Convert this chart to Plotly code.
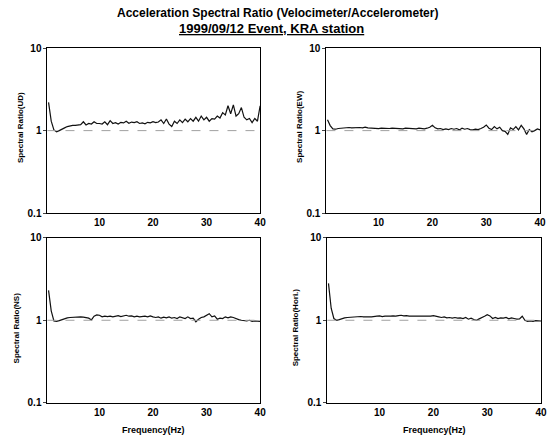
import plotly.graph_objects as go

freq = [0.5 * i for i in range(1, 81)]

ratio_ud = [2.2, 1.3, 1.02, 0.97, 1.0, 1.05, 1.08, 1.12, 1.15, 1.16,
            1.16, 1.17, 1.18, 1.28, 1.17, 1.22, 1.2, 1.28, 1.22, 1.22,
            1.2, 1.28, 1.18, 1.32, 1.22, 1.25, 1.2, 1.26, 1.24, 1.3,
            1.23, 1.27, 1.25, 1.28, 1.22, 1.24, 1.21, 1.26, 1.24, 1.28,
            1.25, 1.27, 1.35, 1.22, 1.38, 1.2, 1.12, 1.3, 1.22, 1.35,
            1.25, 1.38, 1.28, 1.4, 1.3, 1.45, 1.3, 1.5, 1.35, 1.45,
            1.3, 1.4, 1.38, 1.5, 1.42, 1.65, 1.55, 2.0, 1.6, 2.05,
            1.5, 1.6, 1.9, 1.45, 1.35, 1.4, 1.25, 1.4, 1.3, 2.0]

ratio_ew = [1.35, 1.15, 1.05, 1.04, 1.06, 1.07, 1.08, 1.08, 1.09, 1.08,
            1.09, 1.1, 1.09, 1.08, 1.1, 1.08, 1.07, 1.06, 1.07, 1.06,
            1.07, 1.06, 1.07, 1.06, 1.07, 1.06, 1.07, 1.06, 1.05, 1.07,
            1.06, 1.07, 1.06, 1.05, 1.07, 1.06, 1.05, 1.07, 1.1, 1.16,
            1.08, 1.05, 1.06, 1.03, 1.05, 1.03, 1.06, 1.04, 1.06, 1.02,
            1.07, 1.04, 1.06, 1.03, 1.02, 1.04, 1.03, 1.06, 1.1, 1.17,
            1.07, 1.03, 1.12, 1.05, 1.1, 1.0, 0.98, 0.9, 1.08, 1.03,
            1.12, 1.02, 1.16, 1.05, 0.9, 1.03, 0.97, 1.0, 1.05, 1.02]

ratio_ns = [2.3, 1.3, 0.98, 0.97, 0.99, 1.02, 1.05, 1.07, 1.08, 1.09,
            1.1, 1.1, 1.1, 1.09, 1.08, 1.06, 1.01, 1.12, 1.16, 1.15,
            1.1, 1.12, 1.11, 1.12, 1.1, 1.13, 1.14, 1.11, 1.13, 1.15,
            1.12, 1.13, 1.1, 1.12, 1.1, 1.11, 1.12, 1.1, 1.13, 1.1,
            1.08, 1.1, 1.06, 1.09, 1.07, 1.1, 1.06, 1.08, 1.05, 1.1,
            1.07, 1.05, 1.1, 1.05, 1.06, 0.96, 1.03, 1.08, 1.1, 1.14,
            1.2, 1.1, 1.13, 1.03, 1.06, 1.05, 1.1, 1.07, 1.1, 1.08,
            1.04, 1.02, 1.0, 0.99, 0.98, 1.0, 0.97, 0.98, 0.97, 0.97]

ratio_hor = [2.8, 1.4, 1.05, 1.0, 1.02, 1.05, 1.07, 1.08, 1.09, 1.1,
             1.1, 1.11, 1.11, 1.1, 1.11, 1.1, 1.1, 1.1, 1.12, 1.13,
             1.11, 1.12, 1.11, 1.12, 1.13, 1.12, 1.14, 1.15, 1.13, 1.14,
             1.12, 1.12, 1.11, 1.12, 1.1, 1.11, 1.12, 1.11, 1.12, 1.14,
             1.11, 1.1, 1.08, 1.1, 1.07, 1.08, 1.06, 1.08, 1.06, 1.07,
             1.05, 1.08, 1.03, 1.06, 1.02, 1.0, 1.04, 1.07, 1.12, 1.17,
             1.13, 1.05, 1.08, 1.05, 1.07, 1.06, 1.08, 1.04, 1.07, 1.05,
             1.03, 1.04, 1.12, 1.0, 0.97, 0.98, 0.97, 0.99, 0.98, 0.98]

panel_titles = ["Spectral Ratio(UD)", "Spectral Ratio(EW)",
                "Spectral Ratio(NS)", "Spectral Ratio(Hori.)"]
series = [ratio_ud, ratio_ew, ratio_ns, ratio_hor]
x_ticks = [10, 20, 30, 40]
y_ticks = [0.1, 1, 10]
y_tick_text = ["0.1", "1", "10"]
title1 = "Acceleration Spectral Ratio (Velocimeter/Accelerometer)"
title2 = "1999/09/12 Event, KRA station"
xlabel = "Frequency(Hz)"

W, H = 552, 446
# panel pixel boxes: (left, right, top, bottom)
boxes = [(48, 263, 44, 213), (330, 546, 44, 213),
         (48, 263, 238, 407), (331, 547, 238, 407)]
ytitle_pos = [(20, 125), (302, 125), (17, 330), (299, 330)]

FONT = "Liberation Sans"
fig = go.Figure()
for i, (vals, box) in enumerate(zip(series, boxes)):
    l, r, t, b = box
    xa = "xaxis" if i == 0 else f"xaxis{i+1}"
    ya = "yaxis" if i == 0 else f"yaxis{i+1}"
    xr = "x" if i == 0 else f"x{i+1}"
    yr = "y" if i == 0 else f"y{i+1}"
    fig.add_trace(go.Scatter(x=freq, y=vals, mode="lines",
                             line=dict(color="#111111", width=1.2),
                             xaxis=xr, yaxis=yr, showlegend=False))
    fig.add_shape(type="line", xref=f"{xr} domain", yref=yr,
                  x0=0, x1=1, y0=1, y1=1,
                  line=dict(color="#a0a0a0", width=1, dash="dash"))
    fig.layout[xa] = dict(domain=[l / W, r / W], range=[0.3, 40],
                          tickvals=x_ticks, showgrid=False, zeroline=False,
                          showline=True, mirror=True, linecolor="black",
                          linewidth=1, ticks="", anchor=yr,
                          tickfont=dict(family=FONT, size=10, color="black",
                                        weight="bold"))
    fig.layout[ya] = dict(domain=[1 - b / H, 1 - t / H], type="log",
                          range=[-1, 1], tickvals=y_ticks,
                          ticktext=y_tick_text, showgrid=False,
                          zeroline=False, showline=True, mirror=True,
                          linecolor="black", linewidth=1, ticks="outside",
                          ticklen=3, anchor=xr,
                          tickfont=dict(family=FONT, size=10, color="black",
                                        weight="bold"))
    tx, ty = ytitle_pos[i]
    fig.add_annotation(text=f"<b>{panel_titles[i]}</b>", x=tx / W,
                       y=1 - ty / H, xref="paper", yref="paper",
                       xanchor="center", yanchor="middle",
                       textangle=-90, showarrow=False,
                       font=dict(family=FONT, size=8, color="black"))

for xc in [(48 + 263) / 2, (331 + 547) / 2]:
    fig.add_annotation(text=f"<b>{xlabel}</b>", x=xc / W, y=1 - 435 / H,
                       xref="paper", yref="paper", showarrow=False,
                       xanchor="center", yanchor="middle",
                       font=dict(family=FONT, size=9, color="black"))

fig.add_annotation(text=f"<b>{title1}</b>", x=281 / W, y=1 - 8 / H,
                   xref="paper", yref="paper", showarrow=False,
                   xanchor="center", yanchor="middle",
                   font=dict(family=FONT, size=12, color="black"))
fig.add_annotation(text=f"<b><u>{title2}</u></b>", x=274 / W, y=1 - 24 / H,
                   xref="paper", yref="paper", showarrow=False,
                   xanchor="center", yanchor="middle",
                   font=dict(family=FONT, size=13, color="black"))

fig.update_layout(width=W, height=H, margin=dict(l=0, r=0, t=0, b=0),
                  paper_bgcolor="white", plot_bgcolor="white")
fig.write_html("out.html", config={"displayModeBar": False},
               post_script="document.body.style.margin='0';")
